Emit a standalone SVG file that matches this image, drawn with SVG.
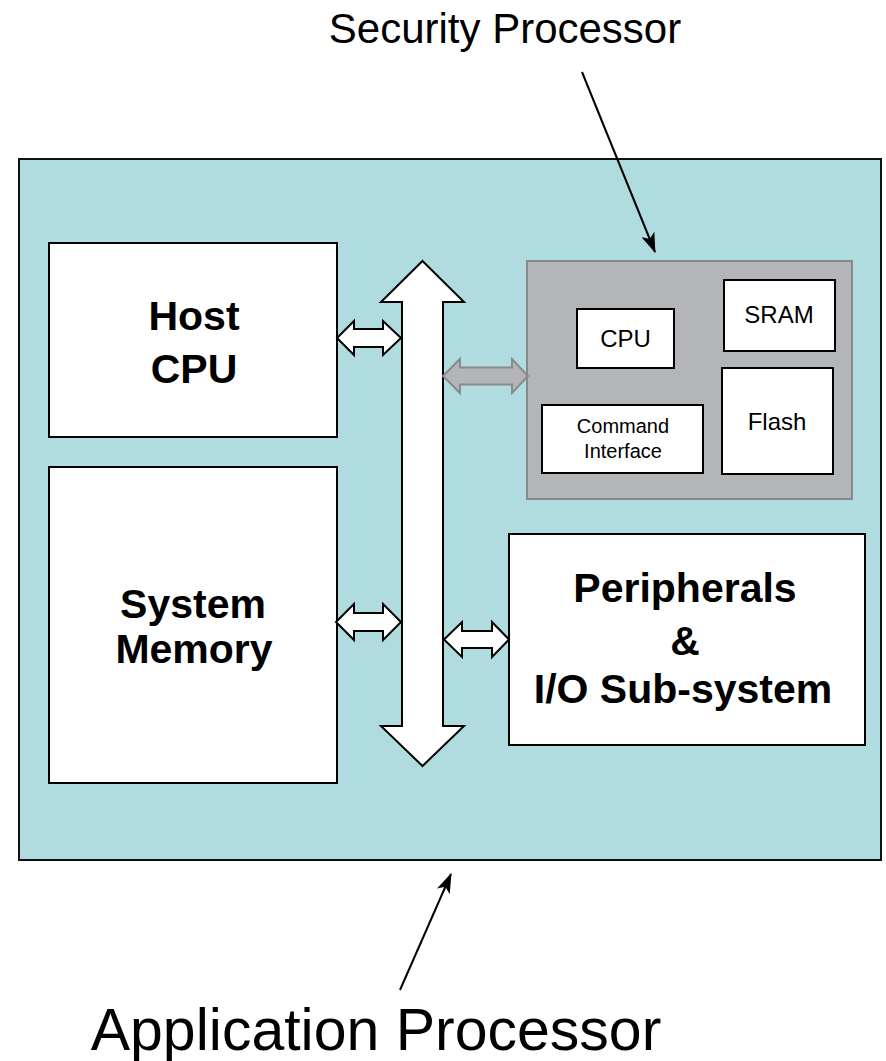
<svg xmlns="http://www.w3.org/2000/svg" width="886" height="1061" viewBox="0 0 886 1061">
<defs>
<marker id="ah" viewBox="0 0 20 14" refX="19" refY="7" markerWidth="20" markerHeight="14" markerUnits="userSpaceOnUse" orient="auto">
<path d="M0,0 L20,7 L0,14 L5,7 Z" fill="#000"/>
</marker>
</defs>
<style>
.box{fill:#fff;stroke:#000;stroke-width:2}
.big{font-family:"Liberation Sans",Arial,sans-serif;font-weight:bold;font-size:41px;text-anchor:middle;fill:#000}
.sm{font-family:"Liberation Sans",Arial,sans-serif;font-size:24px;text-anchor:middle;fill:#000}
.xs{font-family:"Liberation Sans",Arial,sans-serif;font-size:20px;text-anchor:middle;fill:#000}
.lbl{font-family:"Liberation Sans",Arial,sans-serif;text-anchor:middle;fill:#000}
.warr{fill:#fff;stroke:#000;stroke-width:2;stroke-linejoin:miter}
.garr{fill:#b4b5b9;stroke:#8a8a8a;stroke-width:2}
.lead{stroke:#000;stroke-width:2;fill:none}
</style>
<g id="app-processor">
<rect x="19" y="159" width="862" height="701" fill="#b0dce0" stroke="#111" stroke-width="2"/>
</g>
<g id="host-cpu">
<rect class="box" x="49" y="243" width="288" height="194"/>
<text class="big" x="194" y="330">Host</text>
<text class="big" x="194" y="383">CPU</text>
</g>
<g id="system-memory">
<rect class="box" x="49" y="467" width="288" height="316"/>
<text class="big" x="193" y="618">System</text>
<text class="big" x="194" y="663">Memory</text>
</g>
<g id="security-processor">
<rect x="527" y="261" width="325" height="238" fill="#b4b5b9" stroke="#888" stroke-width="2"/>
<g id="sp-cpu">
<rect class="box" x="577" y="309" width="97" height="59"/>
<text class="sm" x="625.5" y="347">CPU</text>
</g>
<g id="sp-sram">
<rect class="box" x="724" y="280" width="111" height="71"/>
<text class="sm" x="779" y="323">SRAM</text>
</g>
<g id="sp-cmd">
<rect class="box" x="542" y="405" width="161" height="68"/>
<text class="xs" x="623" y="433">Command</text>
<text class="xs" x="623" y="458">Interface</text>
</g>
<g id="sp-flash">
<rect class="box" x="722" y="368" width="111" height="106"/>
<text class="sm" x="777" y="430">Flash</text>
</g>
</g>
<g id="peripherals">
<rect class="box" x="509" y="534" width="356" height="211"/>
<text class="big" x="685" y="602">Peripherals</text>
<text class="big" x="685" y="655">&amp;</text>
<text class="big" x="683" y="703">I/O Sub-system</text>
</g>
<g id="connectors">
<path id="bus" class="warr" d="M422.5,261 L464,302 L443,302 L443,726 L464,726 L422.5,766 L381,726 L402,726 L402,302 L381,302 Z"/>
<path class="warr" d="M337,338 L354,321 L354,329 L383,329 L383,321 L401,338 L383,355 L383,347 L354,347 L354,355 Z"/>
<path class="garr" d="M443,376 L460,359 L460,367.5 L512,367.5 L512,359 L528,376 L512,393 L512,384.5 L460,384.5 L460,393 Z"/>
<path class="warr" d="M336,622 L354,604 L354,613 L383,613 L383,604 L401,622 L383,640 L383,631 L354,631 L354,640 Z"/>
<path class="warr" d="M444,639.5 L462,622 L462,631 L492,631 L492,622 L509,639.5 L492,657 L492,648 L462,648 L462,657 Z"/>
<line class="lead" x1="582" y1="72" x2="655" y2="252" marker-end="url(#ah)"/>
<line class="lead" x1="400" y1="990" x2="451" y2="874" marker-end="url(#ah)"/>
</g>
<g id="labels">
<text class="lbl" x="505" y="43" font-size="42">Security Processor</text>
<text class="lbl" x="376" y="1050" font-size="59">Application Processor</text>
</g>
</svg>
